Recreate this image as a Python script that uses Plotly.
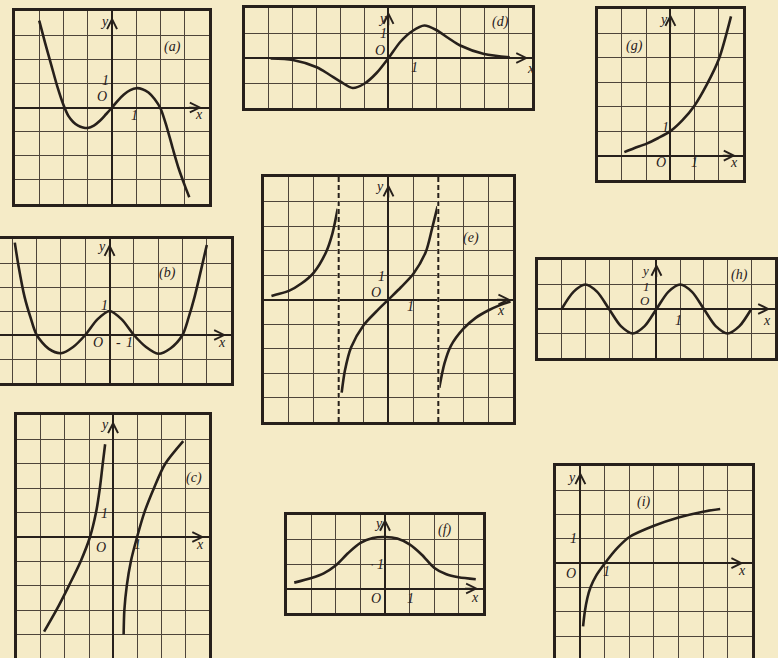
import plotly.graph_objects as go

W, H = 778, 658
PAPER = "#f5ebc7"
INK = "#27201b"
GRID = "#4e443a"
FONT = "Liberation Serif"

# ---- curve data, in grid units ----
# (a) odd curve with three zeros
a_x = [-3.0, -2.75, -2.5, -2.25, -2.0, -1.8, -1.6, -1.4, -1.2, -1.0, -0.75, -0.5, -0.25, 0.0,
       0.25, 0.5, 0.75, 1.0, 1.25, 1.5, 1.75, 2.0, 2.25, 2.5, 2.75, 3.0, 3.18]
a_y = [3.6, 2.65, 1.75, 0.85, 0.1, -0.35, -0.6, -0.75, -0.83, -0.85, -0.75, -0.55, -0.28, 0.0,
       0.3, 0.55, 0.72, 0.8, 0.76, 0.62, 0.35, -0.05, -0.8, -1.7, -2.55, -3.25, -3.72]

# (b) even curve with two minima
b_x = [-3.9, -3.75, -3.5, -3.25, -3.0, -2.5, -2.0, -1.5, -1.0, -0.5, 0.0, 0.5, 1.0, 1.5, 2.0, 2.5, 3.0, 3.25, 3.5, 3.75, 4.0]
b_y = [3.85, 2.9, 1.6, 0.72, 0.0, -0.58, -0.76, -0.5, 0.0, 0.65, 1.0, 0.65, 0.0, -0.5, -0.78, -0.56, 0.0, 0.72, 1.6, 2.65, 3.75]

# (c) two increasing branches
c1_x = [-2.87, -2.36, -1.84, -1.35, -0.96, -0.71, -0.55, -0.43, -0.33]
c1_y = [-3.88, -3.0, -2.0, -1.0, 0.0, 1.0, 2.0, 3.0, 3.8]
c2_x = [0.44, 0.47, 0.57, 0.74, 1.0, 1.3, 1.7, 2.17, 2.92]
c2_y = [-4.0, -3.0, -2.0, -1.0, 0.0, 1.0, 2.0, 3.0, 3.93]

# (d) odd bump decaying on both sides
d_x = [-4.93, -4.0, -3.0, -2.5, -2.0, -1.5, -1.0, -0.5, 0.0, 0.5, 1.0, 1.5, 2.0, 2.5, 3.0, 4.0, 5.07]
d_y = [-0.02, -0.08, -0.37, -0.65, -0.95, -1.2, -1.02, -0.6, 0.0, 0.65, 1.08, 1.3, 1.12, 0.8, 0.5, 0.16, 0.03]

# (e) three branches separated by asymptotes
e_asymptotes = [-2, 2]
e1_x = [-4.7, -4.5, -4.0, -3.5, -3.0, -2.5, -2.25, -2.04]
e1_y = [0.14, 0.2, 0.35, 0.65, 1.1, 1.95, 2.7, 3.7]
e2_x = [-1.88, -1.75, -1.5, -1.0, -0.5, 0.0, 0.5, 1.0, 1.5, 1.75, 1.97]
e2_y = [-3.8, -2.9, -1.95, -1.05, -0.5, 0.0, 0.5, 1.05, 1.95, 2.9, 3.8]
e3_x = [2.04, 2.25, 2.5, 3.0, 3.5, 4.0, 4.5, 4.9]
e3_y = [-3.6, -2.6, -1.9, -1.2, -0.75, -0.45, -0.22, -0.08]

# (f) bell curve
f_x = [-3.7, -3.0, -2.5, -2.0, -1.5, -1.0, -0.5, 0.0, 0.5, 1.0, 1.5, 2.0, 2.5, 3.0, 3.7]
f_y = [0.24, 0.43, 0.62, 0.95, 1.45, 1.86, 2.06, 2.1, 2.04, 1.8, 1.38, 0.85, 0.58, 0.46, 0.38]

# (g) growth curve
g_x = [-1.9, -1.5, -1.0, -0.5, 0.0, 0.5, 1.0, 1.5, 2.0, 2.5]
g_y = [0.14, 0.3, 0.48, 0.72, 1.0, 1.45, 2.05, 2.9, 3.95, 5.7]

# (h) wave
h_x = [-4.0, -3.5, -3.0, -2.5, -2.0, -1.5, -1.0, -0.5, 0.0, 0.5, 1.0, 1.5, 2.0, 2.5, 3.0, 3.5, 4.0]
h_y = [0.0, 0.7, 1.0, 0.7, 0.0, -0.7, -1.0, -0.7, 0.0, 0.7, 1.0, 0.7, 0.0, -0.7, -1.0, -0.7, 0.0]

# (i) slowly growing curve
i_x = [0.11, 0.18, 0.28, 0.41, 0.65, 1.0, 1.5, 2.0, 3.0, 4.0, 5.0, 5.7]
i_y = [-2.6, -2.0, -1.45, -1.0, -0.5, 0.0, 0.62, 1.08, 1.54, 1.88, 2.12, 2.23]

# ---- panel layout: frame box in page pixels (left, top, right, bottom) ----
panels = [
    dict(name="a", curves=[(a_x, a_y)], box=(15, 11, 210, 204), xr=(-4, 4), yr=(-4, 4),
         tips=(3.7, 3.75),
         labels=[("y", -0.3, 3.55), ("(a)", 2.5, 2.5), ("1", -0.27, 1.14), ("O", -0.42, 0.44),
                 ("1", 0.92, -0.32), ("x", 3.6, -0.27)]),
    dict(name="d", curves=[(d_x, d_y)], box=(246, 8, 534, 108), xr=(-6, 6), yr=(-2, 2),
         tips=(5.85, 1.85),
         labels=[("y", -0.27, 1.6), ("(d)", 4.67, 1.44), ("1", -0.22, 1.0), ("O", -0.35, 0.32),
                 ("1", 1.1, -0.36), ("x", 5.95, -0.42)]),
    dict(name="g", curves=[(g_x, g_y)], box=(600, 9, 746, 180), xr=(-3, 3), yr=(-1, 6),
         tips=(2.7, 5.8),
         labels=[("y", -0.27, 5.56), ("(g)", -1.5, 4.5), ("1", -0.22, 1.13), ("O", -0.37, -0.3),
                 ("1", 1.0, -0.3), ("x", 2.63, -0.3)]),
    dict(name="b", curves=[(b_x, b_y)], box=(-12, 239, 232, 383), xr=(-5, 5), yr=(-2, 4),
         tips=(4.8, 3.8),
         labels=[("y", -0.35, 3.67), ("(b)", 2.4, 2.58), ("1", -0.2, 1.25), ("O", -0.47, -0.33),
                 ("-", 0.38, -0.33), ("1", 0.83, -0.33), ("x", 4.63, -0.3)]),
    dict(name="e", curves=[(e1_x, e1_y), (e2_x, e2_y), (e3_x, e3_y)], box=(265, 177, 515, 422),
         xr=(-5, 5), yr=(-5, 5), tips=(4.9, 4.7),
         labels=[("y", -0.38, 4.6), ("(e)", 3.3, 2.5), ("1", -0.3, 0.92), ("O", -0.5, 0.3),
                 ("1", 0.88, -0.3), ("x", 4.5, -0.43)]),
    dict(name="h", curves=[(h_x, h_y)], box=(540, 260, 778, 358), xr=(-5, 5), yr=(-2, 2),
         tips=(4.8, 1.85),
         labels=[("y", -0.48, 1.58), ("(h)", 3.5, 1.39), ("1", -0.4, 0.9), ("O", -0.48, 0.36),
                 ("1", 0.92, -0.45), ("x", 4.66, -0.45)]),
    dict(name="c", curves=[(c1_x, c1_y), (c2_x, c2_y)], box=(17, 415, 210, 659), xr=(-4, 4),
         yr=(-5, 5), tips=(3.8, 4.75),
         labels=[("y", -0.37, 4.6), ("(c)", 3.38, 2.42), ("1", -0.37, 0.98), ("O", -0.5, -0.41),
                 ("1", 1.02, -0.29), ("x", 3.6, -0.29)]),
    dict(name="f", curves=[(f_x, f_y)], box=(288, 515, 485, 613), xr=(-4, 4), yr=(-1, 3),
         tips=(3.8, 2.85),
         labels=[("y", -0.28, 2.67), ("(f)", 2.46, 2.39), ("•", -0.5, 0.96), ("1", -0.2, 0.96),
                 ("O", -0.37, -0.39), ("1", 1.04, -0.39), ("x", 3.68, -0.35)]),
    dict(name="i", curves=[(i_x, i_y)], box=(558, 466, 755, 660.4), xr=(-1, 7), yr=(-4, 4),
         tips=(6.65, 3.75),
         labels=[("y", -0.35, 3.54), ("(i)", 2.6, 2.51), ("1", -0.26, 1.03), ("O", -0.39, -0.41),
                 ("1", 1.06, -0.33), ("x", 6.58, -0.29)]),
]

fig = go.Figure()
annotations = []
shapes = []

for k, p in enumerate(panels, start=1):
    L, T, R, B = p["box"]
    x0, x1 = p["xr"]
    y0, y1 = p["yr"]
    # clip the frame to the page and shift the visible range accordingly
    vl, vr = max(L, 0), min(R, W)
    vt, vb = max(T, 0), min(B, H)
    fx = lambda px: x0 + (px - L) / (R - L) * (x1 - x0)
    fy = lambda py: y1 - (py - T) / (B - T) * (y1 - y0)
    xs = "" if k == 1 else str(k)
    common = dict(tick0=0, dtick=1, showgrid=True, gridcolor=GRID, gridwidth=1,
                  zeroline=True, zerolinecolor=INK, zerolinewidth=1.6,
                  showticklabels=False, ticks="", showline=True, linecolor=INK, linewidth=2.6,
                  mirror=True, fixedrange=True)
    xa = dict(domain=[vl / W, vr / W], range=[fx(vl), fx(vr)], anchor="y" + xs, **common)
    ya = dict(domain=[1 - vb / H, 1 - vt / H], range=[fy(vb), fy(vt)], anchor="x" + xs, **common)
    if B > H:
        xa.update(side="top", mirror=False)
    if L < 0:
        ya.update(side="right", mirror=False)
    fig.update_layout({"xaxis" + xs: xa, "yaxis" + xs: ya})

    xref, yref = "x" + xs, "y" + xs

    if p["name"] == "e":
        for a in e_asymptotes:
            shapes.append(dict(type="line", xref=xref, yref=yref + " domain", x0=a, x1=a, y0=0, y1=1,
                               line=dict(color=PAPER, width=2.4), layer="above"))
            shapes.append(dict(type="line", xref=xref, yref=yref + " domain", x0=a, x1=a, y0=0, y1=1,
                               line=dict(color=INK, width=2, dash="5px,3px"), layer="above"))

    for cx, cy in p["curves"]:
        fig.add_trace(go.Scatter(x=cx, y=cy, mode="lines", xaxis=xref, yaxis=yref,
                                 line=dict(color=INK, width=2.6, shape="spline", smoothing=0.8),
                                 hoverinfo="skip", showlegend=False))

    tx, ty = p["tips"]
    # axis arrowheads
    annotations.append(dict(xref=xref, yref=yref, axref=xref, ayref=yref, x=tx, y=0,
                            ax=tx - 0.6, ay=0, text="", showarrow=True, arrowhead=5,
                            arrowsize=1.3, arrowwidth=1.5, arrowcolor=INK))
    annotations.append(dict(xref=xref, yref=yref, axref=xref, ayref=yref, x=0, y=ty,
                            ax=0, ay=ty - 0.6, text="", showarrow=True, arrowhead=5,
                            arrowsize=1.3, arrowwidth=1.5, arrowcolor=INK))
    for txt, lx, ly in p["labels"]:
        size = 14
        t = "<i>%s</i>" % txt
        if txt == "•":
            size, t = 7, txt
        if p["name"] == "h" and txt in ("y", "1", "O") and ly > 0:
            size = 13
        annotations.append(dict(xref=xref, yref=yref, x=lx, y=ly, text=t, showarrow=False,
                                font=dict(family=FONT, size=size, color=INK),
                                xanchor="center", yanchor="middle"))

fig.update_layout(width=W, height=H, margin=dict(l=0, r=0, t=0, b=0),
                  paper_bgcolor=PAPER, plot_bgcolor=PAPER,
                  annotations=annotations, shapes=shapes, showlegend=False)

fig.write_html("out.html", config=dict(displayModeBar=False))
